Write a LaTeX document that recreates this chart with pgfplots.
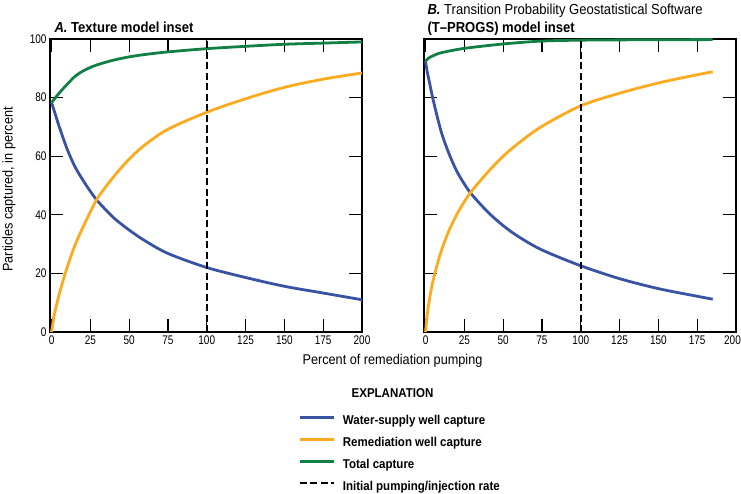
\documentclass[border=0pt]{standalone}
\usepackage{pgfplots}
\pgfplotsset{compat=1.18}
\usepackage{fontspec}
\setmainfont{Liberation Sans}[FakeStretch=0.9]
\newfontfamily\tickfont{Liberation Sans}[FakeStretch=0.8]
\definecolor{cblue}{RGB}{57,83,164}
\definecolor{corange}{RGB}{253,170,30}
\definecolor{cgreen}{RGB}{18,128,68}
\pgfplotsset{
  myax/.style={
    scale only axis, width=312pt, height=293pt,
    xmin=-1, xmax=200, ymin=0, ymax=100,
    xtick={0,25,...,200}, ytick={0,20,...,100},
    tick align=inside, major tick length=13pt,
    tick style={line width=1.2pt, black},
    axis line style={line width=1.2pt},
    /pgf/number format/assume math mode=true,
    ticklabel style={font=\tickfont\fontsize{12.5}{12.5}\selectfont},
    anchor=south west,
  },
  cur/.style={line width=2.8pt, smooth, no markers},
  dash/.style={line width=2pt, black, dash pattern=on 7pt off 3.5pt, no markers},
}
\begin{document}
\begin{tikzpicture}[x=1pt,y=1pt]
\path[use as bounding box] (0,0) rectangle (741,-494);
\begin{axis}[myax, at={(50pt,-332pt)},
  legend style={draw=none, fill=none, at={(axis description cs:0.785,-0.279)}, anchor=north west,
    legend cell align=left, row sep=10pt,
    font=\fontsize{12.8}{12.8}\selectfont\bfseries,
    nodes={inner sep=0pt, text height=9pt, text depth=3pt},
    /tikz/every odd column/.append style={column sep=8pt}},
  legend image code/.code={\draw[#1] (0pt,4.5pt) -- (34pt,4.5pt);},
]
\addplot[cur, cblue] coordinates {(0,78.3) (2,75) (5,70) (10,62.5) (15,56.5) (20,52) (25,48) (30,44.5) (40,39) (50,34.8) (60,31.2) (75,26.8) (100,22) (125,18.6) (150,15.6) (175,13.3) (200,11)};
\addlegendentry{Water-supply well capture}
\addplot[cur, corange] coordinates {(0,0) (1,3.5) (2,6.5) (5,13) (8.5,19.5) (10,22) (15,29.5) (20,35.5) (25,41) (30,46) (40,53) (50,59) (60,63.8) (75,69.2) (100,75) (125,79.6) (150,83.5) (175,86.3) (200,88.4)};
\addlegendentry{Remediation well capture}
\addplot[cur, cgreen] coordinates {(0,78.3) (5,81.6) (10,84.5) (15,87.2) (20,89) (25,90.3) (30,91.3) (40,92.8) (50,93.9) (60,94.7) (75,95.6) (100,96.7) (125,97.5) (150,98.2) (175,98.6) (200,99)};
\addlegendentry{Total capture}
\addplot[dash] coordinates {(100,0) (100,100)};
\addlegendentry{Initial pumping/injection rate}
\end{axis}
\begin{axis}[myax, at={(424pt,-332pt)}, yticklabels={},
  xticklabels={0,25,50,75,100,125,150,175,{\hspace*{-7pt}200}}]
\addplot[cur, cblue] coordinates {(0,92.4) (1,89) (2,86.5) (5,79) (10,68.5) (15,61) (20,55) (25,50.5) (30,46.8) (40,41) (50,36.3) (60,32.5) (75,28) (100,22.6) (125,18.2) (150,14.8) (175,12.2) (185,11.2)};
\addplot[cur, corange] coordinates {(0,0) (1,5.5) (2,9.5) (4,15.5) (6,20) (10,27.5) (15,34.5) (20,40) (25,44.5) (30,48.3) (40,54.5) (50,60) (60,64.5) (75,70.2) (100,77.2) (125,81.5) (150,85) (175,87.8) (185,88.8)};
\addplot[cur, cgreen] coordinates {(0,92.4) (2,93.5) (5,94.3) (10,95.3) (25,96.8) (50,98.3) (75,99.3) (100,99.6) (125,99.7) (185,99.8)};
\addplot[dash] coordinates {(100,0) (100,100)};
\end{axis}
\node[anchor=base west, font=\fontsize{14.5}{14.5}\selectfont\bfseries] at (51,-33) {\textit{A.} Texture model inset};
\node[anchor=base west, font=\fontsize{14.5}{14.5}\selectfont] at (424,-15) {\textbf{\textit{B.}} Transition Probability Geostatistical Software};
\node[anchor=base west, font=\fontsize{14.5}{14.5}\selectfont\bfseries] at (424,-33) {(T--PROGS) model inset};
\node[font=\fontsize{14.1}{14.1}\selectfont] at (392.5,-361) {Percent of remediation pumping};
\node[rotate=90, font=\fontsize{14.1}{14.1}\selectfont] at (9,-189.5) {Particles captured, in percent};
\node[font=\fontsize{12.8}{12.8}\selectfont\bfseries] at (392.5,-393) {EXPLANATION};
\end{tikzpicture}
\end{document}
